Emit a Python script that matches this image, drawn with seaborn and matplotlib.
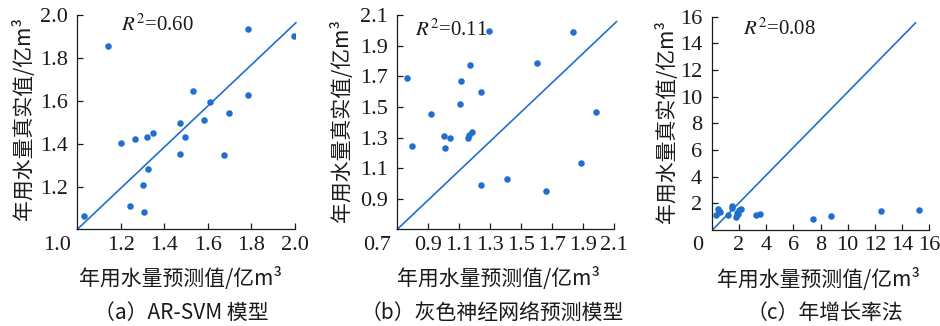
import matplotlib
matplotlib.use("Agg")
import matplotlib.pyplot as plt
import numpy as np
import pandas as pd
import seaborn as sns

# ---------------- data ----------------
# (a) AR-SVM model
a_pred = [1.032, 1.139, 1.199, 1.241, 1.264, 1.302, 1.307, 1.321, 1.327, 1.348, 1.470,
          1.470, 1.495, 1.531, 1.580, 1.609, 1.676, 1.698, 1.786, 1.786, 1.997]
a_true = [1.064, 1.857, 1.405, 1.110, 1.423, 1.206, 1.082, 1.429, 1.281, 1.451, 1.498,
          1.353, 1.429, 1.645, 1.509, 1.597, 1.346, 1.544, 1.935, 1.628, 1.905]
a_line_x = [1.0, 2.005]
a_line_y = [1.0, 1.966]
a_r2 = "0.60"

# (b) grey neural network model
b_pred = [0.760, 0.793, 0.915, 0.999, 1.010, 1.042, 1.102, 1.109, 1.154, 1.160, 1.171,
          1.182, 1.240, 1.238, 1.294, 1.406, 1.600, 1.660, 1.837, 1.884, 1.981]
b_true = [1.693, 1.248, 1.457, 1.313, 1.233, 1.296, 1.522, 1.672, 1.300, 1.320, 1.778,
          1.335, 1.600, 0.993, 1.998, 1.026, 1.787, 0.948, 1.989, 1.135, 1.465]
b_line_x = [0.70, 2.117]
b_line_y = [0.70, 2.059]
b_r2 = "0.11"

# (c) annual growth rate method
c_pred = [0.29, 0.48, 0.58, 1.22, 1.46, 1.51, 1.80, 1.88, 2.00, 2.12, 1.95, 0.50,
          3.23, 3.52, 7.44, 8.77, 12.47, 15.24]
c_true = [1.12, 1.55, 1.35, 1.10, 1.82, 1.62, 0.95, 1.30, 1.50, 1.57, 1.20, 1.45,
          1.15, 1.20, 0.85, 1.05, 1.40, 1.47]
c_line_x = [0.10, 15.0]
c_line_y = [0.05, 15.55]
c_r2 = "0.08"

xlabel_text = "年用水量预测值/亿m³"
ylabel_text = "年用水量真实值/亿m³"
captions = ["（a）AR-SVM 模型", "（b）灰色神经网络预测模型", "（c）年增长率法"]

a_ticks = [1.2, 1.4, 1.6, 1.8, 2.0]
b_ticks = [0.9, 1.1, 1.3, 1.5, 1.7, 1.9, 2.1]
c_ticks = [2, 4, 6, 8, 10, 12, 14, 16]
corner_labels = ["1.0", "0.7", "0"]

# ---------------- style ----------------
sns.set_style("ticks")
plt.rcParams["font.family"] = ["Liberation Serif", "DejaVu Sans"]
plt.rcParams["mathtext.fontset"] = "stix"
CJK = ["Noto Sans CJK SC", "DejaVu Sans"]
BLUE = "#1f70cc"
INK = "#1a1a1a"
TICK_FS = 16

fig = plt.figure(figsize=(9.4, 3.26), dpi=100)
W, H = 940.0, 326.0

panels = [
    dict(rect=(77.3, 15.3, 295.0, 229.3), x=a_pred, y=a_true, lx=a_line_x, ly=a_line_y,
         lim=(1.0, 2.0), ticks=a_ticks, fmt="{:.1f}", r2=a_r2, r2pos=(0.20, 0.953),
         ylab=(-0.249, 0.52), xlab=(0.476, -0.232), corner=-20, cap=(181.7, 313)),
    dict(rect=(397.3, 15.3, 614.0, 229.3), x=b_pred, y=b_true, lx=b_line_x, ly=b_line_y,
         lim=(0.7, 2.1), ticks=b_ticks, fmt="{:.1f}", r2=b_r2, r2pos=(0.082, 0.93),
         ylab=(-0.257, 0.51), xlab=(0.465, -0.232), corner=-20.6, cap=(492, 313)),
    dict(rect=(711.7, 16.7, 929.3, 230.0), x=c_pred, y=c_true, lx=c_line_x, ly=c_line_y,
         lim=(0, 16), ticks=c_ticks, fmt="{:d}", r2=c_r2, r2pos=(0.144, 0.94),
         ylab=(-0.207, 0.51), xlab=(0.49, -0.23), corner=-13.7, cap=(825, 313)),
]

for i, p in enumerate(panels):
    l, t, r, b = p["rect"]
    ax = fig.add_axes([l / W, (H - b) / H, (r - l) / W, (b - t) / H])
    df = pd.DataFrame({"pred": p["x"], "true": p["y"]})
    sns.scatterplot(data=df, x="pred", y="true", ax=ax, color=BLUE, s=22,
                    linewidth=0, zorder=3)
    ldf = pd.DataFrame({"x": p["lx"], "y": p["ly"]})
    sns.lineplot(data=ldf, x="x", y="y", ax=ax, color=BLUE, linewidth=1.2,
                 clip_on=False, zorder=2)
    ax.set_xlim(*p["lim"])
    ax.set_ylim(*p["lim"])
    ax.set_xticks(p["ticks"])
    ax.set_yticks(p["ticks"])
    ax.set_xticklabels([p["fmt"].format(v) for v in p["ticks"]])
    ax.set_yticklabels([p["fmt"].format(v) for v in p["ticks"]])
    sns.despine(ax=ax)
    for s in ("left", "bottom"):
        ax.spines[s].set_linewidth(0.9)
        ax.spines[s].set_color(INK)
    ax.tick_params(axis="both", direction="in", length=4, width=0.9, color=INK,
                   labelsize=TICK_FS, labelcolor=INK)
    ax.tick_params(axis="x", pad=4.5)
    ax.tick_params(axis="y", pad=7)
    ax.annotate(corner_labels[i], xy=(0, 0), xycoords="axes fraction",
                xytext=(p["corner"] * 0.72, -4.5), textcoords="offset points",
                ha="center", va="top", fontsize=TICK_FS, color=INK)
    ax.set_xlabel(xlabel_text, fontfamily=CJK, fontsize=15, va="center", color=INK)
    ax.set_ylabel(ylabel_text, fontfamily=CJK, fontsize=15, va="center", color=INK)
    ax.xaxis.set_label_coords(*p["xlab"])
    ax.yaxis.set_label_coords(*p["ylab"])
    ax.text(p["r2pos"][0], p["r2pos"][1], "$R^2$=" + p["r2"],
            transform=ax.transAxes, ha="left", va="center", fontsize=15, color=INK)
    fig.text(p["cap"][0] / W, (H - p["cap"][1]) / H, captions[i], fontfamily=CJK,
             fontsize=15, ha="center", va="center", color=INK)

fig.savefig("out.png", dpi=100)
